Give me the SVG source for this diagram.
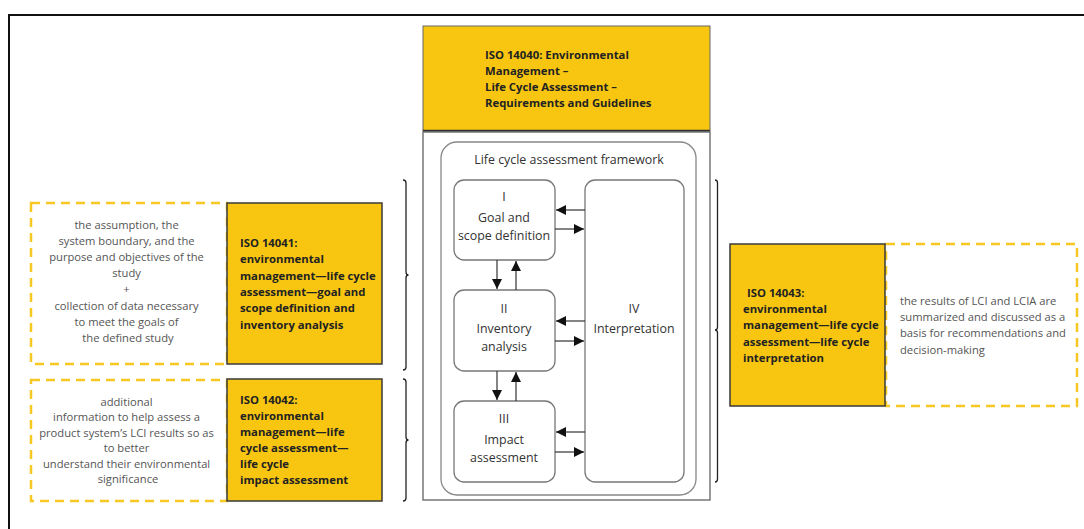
<svg xmlns="http://www.w3.org/2000/svg" width="1084" height="529" viewBox="0 0 1084 529">
  <defs>
    <marker id="ah" viewBox="0 0 10 10" refX="10" refY="5" markerWidth="10" markerHeight="10" markerUnits="userSpaceOnUse" orient="auto">
      <path d="M0,0 L10,5 L0,10 z" fill="#111"/>
    </marker>
    <style>
      .std { fill: #f8c611; stroke: #3a3a3a; stroke-width: 1.5; }
      .note { fill: none; stroke: #f7c823; stroke-width: 2.5; stroke-dasharray: 9 6; }
      .stage { fill: #fff; stroke: #777; stroke-width: 1.3; }
      .bold { font-family: "Open Sans", "Noto Sans", sans-serif; font-weight: bold; font-size: 11.3px; fill: #222; }
      .thin { font-family: "Open Sans", "Noto Sans", sans-serif; font-size: 11.2px; fill: #555; }
      .fw { font-family: "Open Sans", "Noto Sans", sans-serif; font-size: 12.4px; fill: #333; text-anchor: middle; }
      .brace { fill: none; stroke: #222; stroke-width: 1.3; }
      .arrow { stroke: #333; stroke-width: 1.2; fill: none; marker-end: url(#ah); }
    </style>
  </defs>
  <rect width="1084" height="529" fill="#fff"/>

  <!-- outer frame -->
  <path d="M9,529 L9,15 L1084,15" fill="none" stroke="#111" stroke-width="2"/>

  <!-- ISO 14040 -->
  <g id="iso14040">
    <rect x="423" y="26" width="287" height="105" fill="#f8c611" stroke="#666" stroke-width="1"/>
    <line x1="423" y1="131" x2="710" y2="131" stroke="#333" stroke-width="2.5"/>
    <text class="bold" font-size="10.8px">
      <tspan x="485" y="59">ISO 14040: Environmental</tspan>
      <tspan x="485" y="75">Management –</tspan>
      <tspan x="485" y="91">Life Cycle Assessment –</tspan>
      <tspan x="485" y="107">Requirements and Guidelines</tspan>
    </text>
  </g>

  <!-- framework container -->
  <g id="framework">
    <rect x="423" y="132" width="287" height="368" fill="#fff" stroke="#777" stroke-width="1.5"/>
    <rect x="441" y="142" width="255" height="353" rx="16" fill="#fff" stroke="#888" stroke-width="1.3"/>
    <text class="fw" x="569" y="164">Life cycle assessment framework</text>
  </g>

  <g id="stage1">
    <rect class="stage" x="454" y="180" width="101" height="80" rx="10"/>
    <text class="fw"><tspan x="504" y="201">I</tspan><tspan x="504" y="222">Goal and</tspan><tspan x="504" y="240">scope definition</tspan></text>
  </g>
  <g id="stage2">
    <rect class="stage" x="454" y="290" width="101" height="81" rx="10"/>
    <text class="fw"><tspan x="504" y="313">II</tspan><tspan x="504" y="333">Inventory</tspan><tspan x="504" y="351">analysis</tspan></text>
  </g>
  <g id="stage3">
    <rect class="stage" x="454" y="401" width="101" height="81" rx="10"/>
    <text class="fw"><tspan x="504" y="423">III</tspan><tspan x="504" y="444">Impact</tspan><tspan x="504" y="462">assessment</tspan></text>
  </g>
  <g id="stage4">
    <rect class="stage" x="585" y="180" width="99" height="302" rx="10"/>
    <text class="fw"><tspan x="634" y="313">IV</tspan><tspan x="634" y="333">Interpretation</tspan></text>
  </g>

  <!-- connectors -->
  <g id="connectors">
    <line class="arrow" x1="585" y1="210" x2="556" y2="210"/>
    <line class="arrow" x1="555" y1="229" x2="584" y2="229"/>
    <line class="arrow" x1="585" y1="321" x2="556" y2="321"/>
    <line class="arrow" x1="555" y1="341" x2="584" y2="341"/>
    <line class="arrow" x1="585" y1="432" x2="556" y2="432"/>
    <line class="arrow" x1="555" y1="452" x2="584" y2="452"/>
    <line class="arrow" x1="497" y1="260" x2="497" y2="289"/>
    <line class="arrow" x1="516" y1="290" x2="516" y2="261"/>
    <line class="arrow" x1="497" y1="371" x2="497" y2="400"/>
    <line class="arrow" x1="516" y1="401" x2="516" y2="372"/>
    <!-- braces grouping the standards -->
    <path class="brace" d="M403,180 Q406,180 406,183 L406,272 Q406,275 408.5,275 Q406,275 406,278 L406,367 Q406,370 403,370"/>
    <path class="brace" d="M403,379 Q406,379 406,382 L406,437 Q406,440 408.5,440 Q406,440 406,443 L406,498 Q406,501 403,501"/>
    <path class="brace" d="M715,180 Q717.5,180 717.5,183 L717.5,327 Q717.5,330 715,330 Q717.5,330 717.5,333 L717.5,479 Q717.5,482 715,482"/>
  </g>

  <!-- ISO 14041 -->
  <g id="iso14041">
    <rect class="note" x="31" y="203" width="196" height="161"/>
    <rect class="std" x="227" y="203" width="155" height="161"/>
    <text class="thin" text-anchor="middle">
      <tspan x="128" y="229">the assumption, the</tspan>
      <tspan x="128" y="245">system boundary, and the</tspan>
      <tspan x="128" y="261">purpose and objectives of the</tspan>
      <tspan x="128" y="277">study</tspan>
      <tspan x="128" y="293">+</tspan>
      <tspan x="128" y="310">collection of data necessary</tspan>
      <tspan x="128" y="326">to meet the goals of</tspan>
      <tspan x="128" y="342">the defined study</tspan>
    </text>
    <text class="bold">
      <tspan x="240" y="247">ISO 14041:</tspan>
      <tspan x="240" y="263">environmental</tspan>
      <tspan x="240" y="280">management—life cycle</tspan>
      <tspan x="240" y="296">assessment—goal and</tspan>
      <tspan x="240" y="312">scope definition and</tspan>
      <tspan x="240" y="329">inventory analysis</tspan>
    </text>
  </g>

  <!-- ISO 14042 -->
  <g id="iso14042">
    <rect class="note" x="31" y="380" width="196" height="121"/>
    <rect class="std" x="227" y="379" width="155" height="122"/>
    <text class="thin" text-anchor="middle">
      <tspan x="128" y="406">additional</tspan>
      <tspan x="128" y="421">information to help assess a</tspan>
      <tspan x="128" y="437">product system’s LCI results so as</tspan>
      <tspan x="128" y="452">to better</tspan>
      <tspan x="128" y="468">understand their environmental</tspan>
      <tspan x="128" y="483">significance</tspan>
    </text>
    <text class="bold">
      <tspan x="240" y="404">ISO 14042:</tspan>
      <tspan x="240" y="420">environmental</tspan>
      <tspan x="240" y="436">management—life</tspan>
      <tspan x="240" y="452">cycle assessment—</tspan>
      <tspan x="240" y="468">life cycle</tspan>
      <tspan x="240" y="484">impact assessment</tspan>
    </text>
  </g>

  <!-- ISO 14043 -->
  <g id="iso14043">
    <rect class="note" x="886" y="244" width="191" height="162"/>
    <rect class="std" x="730" y="244" width="155" height="162"/>
    <text class="bold">
      <tspan x="747" y="297">ISO 14043:</tspan>
      <tspan x="743" y="313">environmental</tspan>
      <tspan x="743" y="329">management—life cycle</tspan>
      <tspan x="743" y="346">assessment—life cycle</tspan>
      <tspan x="743" y="362">interpretation</tspan>
    </text>
    <text class="thin">
      <tspan x="900" y="305">the results of LCI and LCIA are</tspan>
      <tspan x="900" y="321">summarized and discussed as a</tspan>
      <tspan x="900" y="337">basis for recommendations and</tspan>
      <tspan x="900" y="354">decision-making</tspan>
    </text>
  </g>
</svg>
